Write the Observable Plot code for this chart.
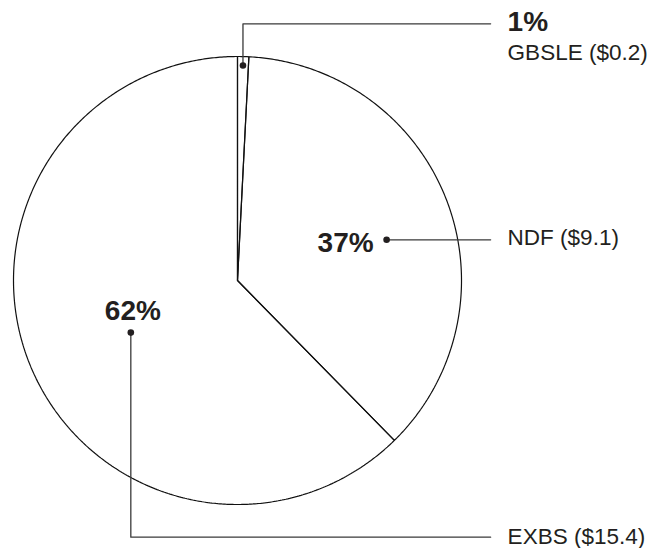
<!DOCTYPE html>
<html>
<head>
<meta charset="utf-8">
<script src="https://cdn.jsdelivr.net/npm/d3@7"></script>
<script src="https://cdn.jsdelivr.net/npm/@observablehq/plot@0.6"></script>
<style>
  html, body { margin: 0; padding: 0; background: #fff; }
  svg { display: block; }
</style>
</head>
<body>
<div id="chart"></div>
<script>
// ---- data ----
const categories = ["GBSLE", "NDF", "EXBS"];
const amounts = [0.2, 9.1, 15.4];          // $ (billions)
const shareLabels = ["1%", "37%", "62%"];
const amountLabels = ["GBSLE ($0.2)", "NDF ($9.1)", "EXBS ($15.4)"];

// ---- annotation layout (unit-circle space) ----
const dotRadius = {GBSLE: 0.96, NDF: 0.69, EXBS: 0.53};
const dotNudgeDeg = {GBSLE: 0, NDF: 5.5, EXBS: -3.8};
const route = {GBSLE: "up", NDF: "across", EXBS: "down"};
const leaderEndX = 1.13, leaderTopY = -1.146, leaderBottomY = 1.146;

const rows = categories.map((c, i) => ({key: c, amount: amounts[i], share: shareLabels[i], label: amountLabels[i]}));
const arcs = d3.pie().sort(null).value(d => d.amount)(rows);
const polar = (a, r) => ({x: r * Math.sin(a), y: -r * Math.cos(a)});

// slice outlines
const slicePts = [];
arcs.forEach(a => {
  const k = a.data.key;
  slicePts.push({key: k, x: 0, y: 0});
  const n = Math.max(2, Math.ceil((a.endAngle - a.startAngle) / (Math.PI / 360)));
  for (let i = 0; i <= n; i++) {
    const t = a.startAngle + (a.endAngle - a.startAngle) * i / n;
    slicePts.push({key: k, ...polar(t, 1)});
  }
  slicePts.push({key: k, x: 0, y: 0});
});

// dots & leaders
const dots = arcs.map(a => {
  const k = a.data.key;
  const mid = (a.startAngle + a.endAngle) / 2 + dotNudgeDeg[k] * Math.PI / 180;
  return {key: k, share: a.data.share, label: a.data.label, ...polar(mid, dotRadius[k])};
});
const leaders = [];
const labelPos = [];
dots.forEach(d => {
  leaders.push({key: d.key, x: d.x, y: d.y});
  let ly = d.y;
  if (route[d.key] === "up") { ly = leaderTopY; leaders.push({key: d.key, x: d.x, y: ly}); }
  if (route[d.key] === "down") { ly = leaderBottomY; leaders.push({key: d.key, x: d.x, y: ly}); }
  leaders.push({key: d.key, x: leaderEndX, y: ly});
  labelPos.push({key: d.key, x: leaderEndX, y: ly, label: d.label, share: d.share});
});

const ink = "#231f20";
const font = "'Liberation Sans', Arial, Helvetica, sans-serif";

const gb = labelPos.filter(d => d.key === "GBSLE");
const ndfDot = dots.filter(d => d.key === "NDF");
const exDot = dots.filter(d => d.key === "EXBS");
const ndfLab = labelPos.filter(d => d.key === "NDF");
const exLab = labelPos.filter(d => d.key === "EXBS");

const chart = Plot.plot({
  width: 658,
  height: 548,
  margin: 0,
  x: {domain: [-1, 1], range: [13, 461], axis: null},
  y: {domain: [-1, 1], range: [56, 504], axis: null},
  style: {background: "#fff", fontFamily: font},
  marks: [
    Plot.line(slicePts, {x: "x", y: "y", z: "key", stroke: "#111", strokeWidth: 1.2, strokeLinejoin: "miter"}),
    Plot.line(leaders, {x: "x", y: "y", z: "key", stroke: "#3a3a3a", strokeWidth: 1.3}),
    Plot.dot(dots, {x: "x", y: "y", r: 3.3, fill: ink, stroke: "none"}),
    // GBSLE: share above name, at end of top leader
    Plot.text(gb, {x: "x", y: "y", text: "share", textAnchor: "start", lineAnchor: "middle", dx: 17, dy: -2, fontSize: 28, fontWeight: "bold", fill: ink}),
    Plot.text(gb, {x: "x", y: "y", text: "label", textAnchor: "start", lineAnchor: "middle", dx: 17, dy: 29, fontSize: 22.5, fill: ink}),
    // NDF
    Plot.text(ndfDot, {x: "x", y: "y", text: "share", textAnchor: "end", lineAnchor: "middle", dx: -13, dy: 3, fontSize: 28, fontWeight: "bold", fill: ink}),
    Plot.text(ndfLab, {x: "x", y: "y", text: "label", textAnchor: "start", lineAnchor: "middle", dx: 17, dy: -2, fontSize: 22.5, fill: ink}),
    // EXBS
    Plot.text(exDot, {x: "x", y: "y", text: "share", textAnchor: "middle", lineAnchor: "middle", dx: 2, dy: -22, fontSize: 28, fontWeight: "bold", fill: ink}),
    Plot.text(exLab, {x: "x", y: "y", text: "label", textAnchor: "start", lineAnchor: "middle", dx: 17, dy: 0, fontSize: 22.5, fill: ink})
  ]
});
document.getElementById("chart").appendChild(chart);
</script>
</body>
</html>
